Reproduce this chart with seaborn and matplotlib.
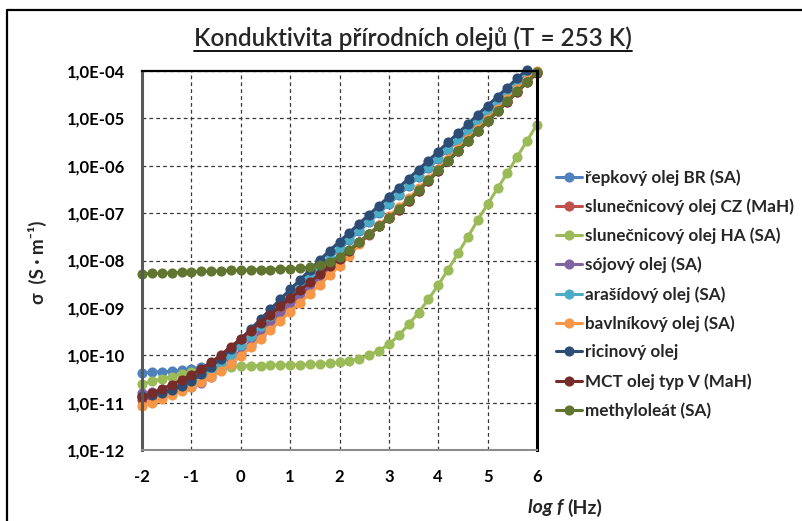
import numpy as np
import pandas as pd
import matplotlib
matplotlib.use("Agg")
import matplotlib.pyplot as plt
import seaborn as sns
from matplotlib.lines import Line2D
from matplotlib.ticker import FixedLocator, FuncFormatter, NullLocator

# ---------------- data (log10 of conductivity, S/m) ----------------
log_f = [-2.0, -1.8, -1.6, -1.4, -1.2, -1.0, -0.8, -0.6, -0.4, -0.2,
         0.0, 0.2, 0.4, 0.6, 0.8, 1.0, 1.2, 1.4, 1.6, 1.8,
         2.0, 2.2, 2.4, 2.6, 2.8, 3.0, 3.2, 3.4, 3.6, 3.8,
         4.0, 4.2, 4.4, 4.6, 4.8, 5.0, 5.2, 5.4, 5.6, 5.8, 6.0]

repkovy = [-10.37, -10.36, -10.35, -10.34, -10.32, -10.29, -10.25, -10.18, -10.08, -9.95,
           -9.80, -9.62, -9.42, -9.21, -9.00, -8.79, -8.58, -8.37, -8.16, -7.96,
           -7.76, -7.57, -7.38, -7.19, -7.00, -6.81, -6.62, -6.43, -6.24, -6.05,
           -5.86, -5.66, -5.47, -5.28, -5.08, -4.89, -4.70, -4.51, -4.31, -4.12, np.nan]
slun_cz = [-10.95, -10.88, -10.80, -10.71, -10.61, -10.50, -10.38, -10.24, -10.08, -9.91,
           -9.73, -9.55, -9.37, -9.19, -9.01, -8.83, -8.66, -8.48, -8.31, -8.14,
           -7.97, -7.80, -7.63, -7.46, -7.28, -7.11, -6.93, -6.74, -6.53, -6.32,
           -6.11, -5.90, -5.69, -5.48, -5.27, -5.06, -4.85, -4.65, -4.44, -4.24, -4.04]
slun_ha = [-10.60, -10.55, -10.50, -10.45, -10.40, -10.35, -10.31, -10.28, -10.26, -10.24,
           -10.23, -10.22, -10.22, -10.21, -10.21, -10.20, -10.20, -10.19, -10.18, -10.17,
           -10.15, -10.12, -10.07, -10.00, -9.90, -9.77, -9.58, -9.35, -9.10, -8.82,
           -8.52, -8.19, -7.85, -7.50, -7.15, -6.81, -6.48, -6.15, -5.81, -5.47, -5.13]
sojovy = [-10.80, -10.78, -10.76, -10.74, -10.71, -10.66, -10.58, -10.46, -10.32, -10.15,
          -9.97, -9.78, -9.58, -9.38, -9.18, -8.98, -8.78, -8.58, -8.38, -8.18,
          -7.98, -7.79, -7.61, -7.44, -7.26, -7.09, -6.91, -6.72, -6.51, -6.30,
          -6.09, -5.88, -5.67, -5.46, -5.25, -5.04, -4.83, -4.63, -4.42, -4.22, -4.02]
arasidovy = [-10.85, -10.82, -10.78, -10.73, -10.67, -10.59, -10.49, -10.36, -10.19, -9.99,
             -9.79, -9.59, -9.38, -9.17, -8.96, -8.75, -8.55, -8.34, -8.13, -7.93,
             -7.74, -7.55, -7.36, -7.17, -6.98, -6.79, -6.60, -6.41, -6.22, -6.03,
             -5.84, -5.64, -5.45, -5.26, -5.06, -4.87, -4.68, -4.49, -4.29, -4.10, np.nan]
bavlnikovy = [-11.08, -11.00, -10.92, -10.84, -10.76, -10.67, -10.57, -10.46, -10.33, -10.18,
              -10.01, -9.83, -9.65, -9.46, -9.27, -9.08, -8.89, -8.70, -8.51, -8.31,
              -8.11, -7.91, -7.66, -7.44, -7.25, -7.06, -6.88, -6.69, -6.48, -6.27,
              -6.06, -5.85, -5.64, -5.43, -5.22, -5.01, -4.80, -4.60, -4.39, -4.19, -3.99]
ricinovy = [-10.86, -10.83, -10.79, -10.73, -10.65, -10.54, -10.40, -10.24, -10.07, -9.87,
            -9.66, -9.45, -9.24, -9.03, -8.82, -8.61, -8.41, -8.20, -7.99, -7.79,
            -7.60, -7.41, -7.22, -7.03, -6.84, -6.65, -6.46, -6.27, -6.08, -5.89,
            -5.70, -5.50, -5.31, -5.12, -4.92, -4.73, -4.54, -4.35, -4.15, -3.97, np.nan]
mct = [-10.88, -10.80, -10.71, -10.62, -10.52, -10.41, -10.29, -10.15, -9.99, -9.82,
       -9.65, -9.48, -9.31, -9.14, -8.97, -8.80, -8.63, -8.46, -8.29, -8.12,
       -7.96, -7.79, -7.62, -7.45, -7.28, -7.11, -6.93, -6.74, -6.53, -6.32,
       -6.11, -5.90, -5.69, -5.48, -5.27, -5.06, -4.85, -4.65, -4.44, -4.24, -4.04]
methyloleat = [-8.28, -8.27, -8.27, -8.26, -8.25, -8.24, -8.23, -8.23, -8.22, -8.21,
               -8.21, -8.20, -8.19, -8.19, -8.18, -8.17, -8.16, -8.14, -8.10, -8.03,
               -7.92, -7.77, -7.61, -7.44, -7.27, -7.10, -6.92, -6.73, -6.52, -6.31,
               -6.10, -5.89, -5.68, -5.47, -5.26, -5.05, -4.84, -4.64, -4.43, -4.23, -4.03]

labels = ["řepkový olej BR (SA)", "slunečnicový olej CZ (MaH)", "slunečnicový olej HA (SA)",
          "sójový olej (SA)", "arašídový olej (SA)", "bavlníkový olej (SA)",
          "ricinový olej", "MCT olej typ V (MaH)", "methyloleát (SA)"]
series = [repkovy, slun_cz, slun_ha, sojovy, arasidovy, bavlnikovy, ricinovy, mct, methyloleat]
colors = ["#4F81BD", "#C0504D", "#9BBB59", "#8064A2", "#4BACC6", "#F79646",
          "#2C4D75", "#772C2A", "#5F7530"]

x_ticks = [-2, -1, 0, 1, 2, 3, 4, 5, 6]
y_ticks = [1e-12, 1e-11, 1e-10, 1e-9, 1e-8, 1e-7, 1e-6, 1e-5, 1e-4]

title = "Konduktivita přírodních olejů (T = 253 K)"

# ---------------- style ----------------
sns.set_theme(style="white")
FAM = ["Lato", "DejaVu Sans"]
plt.rcParams["font.family"] = FAM
plt.rcParams["axes.unicode_minus"] = False

W, H = 802, 521
fig = plt.figure(figsize=(W / 100, H / 100), dpi=100)
fig.patch.set_facecolor("white")
L, R, T, B = 142, 537, 71, 450
ax = fig.add_axes([L / W, 1 - B / H, (R - L) / W, (B - T) / H])

for lab, vals, col in zip(labels, series, colors):
    df = pd.DataFrame({"x": log_f, "y": 10 ** np.array(vals, dtype=float)}).dropna()
    sns.lineplot(data=df, x="x", y="y", ax=ax, color=col, label=lab,
                 marker="o", markersize=7.3, markeredgewidth=0, linewidth=2.2,
                 estimator=None, sort=False, clip_on=False, zorder=3)

ax.set_yscale("log")
ax.set_xlim(-2, 6)
ax.set_ylim(1e-12, 1e-4)
ax.xaxis.set_major_locator(FixedLocator(x_ticks))
ax.yaxis.set_major_locator(FixedLocator(y_ticks))
ax.yaxis.set_minor_locator(NullLocator())
ax.xaxis.set_major_formatter(FuncFormatter(lambda v, p: f"{int(round(v))}"))
ax.yaxis.set_major_formatter(FuncFormatter(
    lambda v, p: "1,0E-%02d" % int(round(-np.log10(v)))))
ax.set_xlabel("")
ax.set_ylabel("")
ax.grid(True, which="major", color="#383838", linestyle=(0, (3.0, 2.5)), linewidth=0.9)
ax.set_axisbelow(True)
ax.tick_params(axis="both", length=0, labelsize=12, colors="black")
ax.tick_params(axis="y", pad=12)
ax.tick_params(axis="x", pad=14)
for lab in ax.get_xticklabels() + ax.get_yticklabels():
    lab.set_fontweight("bold")
    lab.set_family(FAM)

ax.spines["left"].set_color("#595959")
ax.spines["left"].set_linewidth(2.2)
ax.spines["bottom"].set_color("#8C8C8C")
ax.spines["bottom"].set_linewidth(1.5)
ax.spines["top"].set_color("black")
ax.spines["top"].set_linewidth(1.6)
ax.spines["right"].set_color("black")
ax.spines["right"].set_linewidth(2.2)
for s in ax.spines.values():
    s.set_zorder(5)

# legend
handles, labs = ax.get_legend_handles_labels()
ax.get_legend().remove()
leg = fig.legend(handles, labs, loc="center left",
                 bbox_to_anchor=(556 / W, 1 - 294 / H), frameon=False,
                 handlelength=1.55, handletextpad=0.15, labelspacing=0.74,
                 borderaxespad=0, borderpad=0,
                 prop={"family": FAM, "weight": "bold", "size": 12.3})

# title with underline
t = fig.text(413 / W, 1 - 38 / H, title, ha="center", va="center",
             fontsize=17.5, family=FAM, fontweight="semibold")

# y label
fig.text(37 / W, 1 - 262 / H, "σ  (S · m⁻¹)", rotation=90, ha="center", va="center",
         fontsize=13.5, family=FAM, fontweight="bold")

# x label
fig.text(563 / W, 1 - 508 / H, "log f", ha="right", va="center",
         fontsize=14, family=FAM, fontweight="bold", style="italic")
fig.text(567 / W, 1 - 508 / H, "(Hz)", ha="left", va="center",
         fontsize=14, family=FAM, fontweight="bold")

# outer chart frame (top and left edges visible)
fig.add_artist(Line2D([7 / W, 1.0], [1 - 10 / H, 1 - 10 / H], color="black",
                      linewidth=1.6, transform=fig.transFigure))
fig.add_artist(Line2D([7 / W, 7 / W], [0, 1 - 10 / H], color="black",
                      linewidth=1.6, transform=fig.transFigure))

fig.canvas.draw()
bb = t.get_window_extent(fig.canvas.get_renderer())
uy = (bb.y0 - 1) / H
fig.add_artist(Line2D([bb.x0 / W, bb.x1 / W], [uy, uy], color="black",
                      linewidth=1.3, transform=fig.transFigure))

fig.savefig("out.png", dpi=100)
